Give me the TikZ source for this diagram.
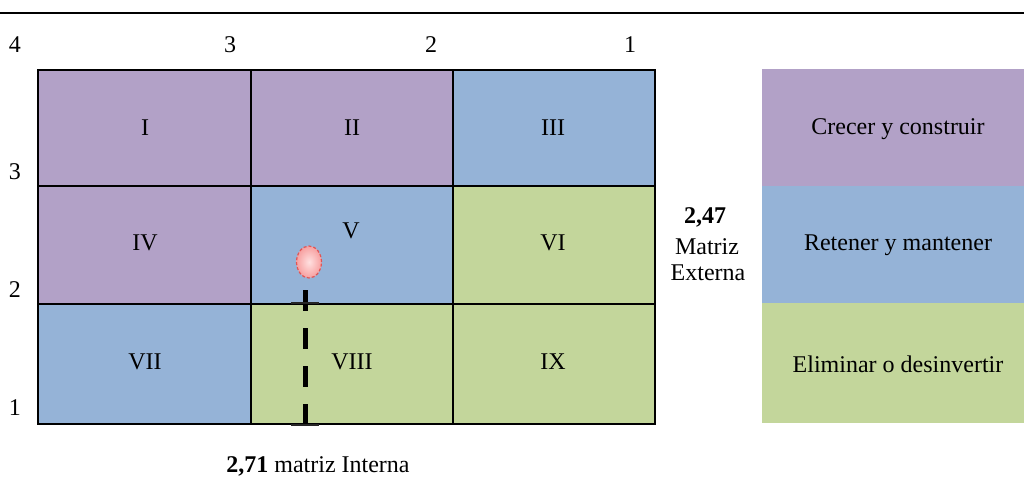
\documentclass[tikz,border=0pt]{standalone}
\usepackage{fontspec}
\setmainfont{Liberation Serif}
\usetikzlibrary{shapes.geometric}
\definecolor{purp}{HTML}{B2A1C7}
\definecolor{blu}{HTML}{95B3D7}
\definecolor{grn}{HTML}{C3D69B}
\definecolor{dotin}{HTML}{FFE0E0}
\definecolor{dotout}{HTML}{F7A0A0}
\definecolor{dotedge}{HTML}{E05555}
\tikzset{
  lbl/.style={inner sep=0pt, font=\fontsize{24}{28}\selectfont},
  gridline/.style={line width=2.6pt, black},
}
\begin{document}
\begin{tikzpicture}[x=1pt,y=-1pt]
\useasboundingbox (0,0) rectangle (1024,478);
% top rule
\draw[line width=2.2pt] (0,13) -- (1024,13);
% cells
\fill[purp] (38,70) rectangle (251,186);
\fill[purp] (251,70) rectangle (453,186);
\fill[blu]  (453,70) rectangle (655,186);
\fill[purp] (38,186) rectangle (251,304);
\fill[blu]  (251,186) rectangle (453,304);
\fill[grn]  (453,186) rectangle (655,304);
\fill[blu]  (38,304) rectangle (251,424);
\fill[grn]  (251,304) rectangle (453,424);
\fill[grn]  (453,304) rectangle (655,424);
\draw[gridline] (38,70) rectangle (655,424);
\draw[gridline] (251,70) -- (251,424) (453,70) -- (453,424)
                (38,186) -- (655,186) (38,304) -- (655,304);
% legend
\fill[purp] (762,69) rectangle (1024,186);
\fill[blu]  (762,186) rectangle (1024,303);
\fill[grn]  (762,303) rectangle (1024,423);
% cell labels
\node[lbl] (t1) at (145,128) {I};
\node[lbl] (t2) at (352,128) {II};
\node[lbl] (t3) at (553,128) {III};
\node[lbl] (t4) at (145,243) {IV};
\node[lbl] (t5) at (351,231) {V};
\node[lbl] (t6) at (553,243) {VI};
\node[lbl] (t7) at (145,362) {VII};
\node[lbl] (t8) at (352,362) {VIII};
\node[lbl] (t9) at (553,362) {IX};
% legend labels
\node[lbl] (l1) at (898,129) {Crecer y construir};
\node[lbl] (l2) at (898,245) {Retener y mantener};
\node[lbl] (l3) at (898,364) {Eliminar o desinvertir};
% axis numbers
\node[lbl] (x4) at (15,45) {4};
\node[lbl] (x3) at (230,45) {3};
\node[lbl] (x2) at (431,45) {2};
\node[lbl] (x1) at (630,45) {1};
\node[lbl] (y3) at (15,172) {3};
\node[lbl] (y2) at (15,290) {2};
\node[lbl] (y1) at (15,408) {1};
% external score
\node[lbl] (e1) at (705,217) {\bfseries 2,47};
\node[lbl] (e2) at (707,247) {Matriz};
\node[lbl] (e3) at (708,273) {Externa};
% internal score
\node[lbl] (i1) at (318,466) {\textbf{2,71} matriz Interna};
% marker dot
\node[ellipse, minimum width=25pt, minimum height=32pt, inner sep=0pt,
      draw=dotedge, line width=1.2pt, densely dashed,
      inner color=dotin, outer color=dotout] (dot) at (309,262) {};
% dashed vertical line with ticks
\coordinate (p1) at (305,290);
\coordinate (p2) at (305,425);
\draw[line width=5pt, dash pattern=on 21pt off 17pt] (p1) -- (p2);
\draw[line width=1.8pt, black!85] (291,303) -- (319,303);
\draw[line width=1.8pt, black!85] (291,425) -- (319,425);
\end{tikzpicture}
\end{document}
